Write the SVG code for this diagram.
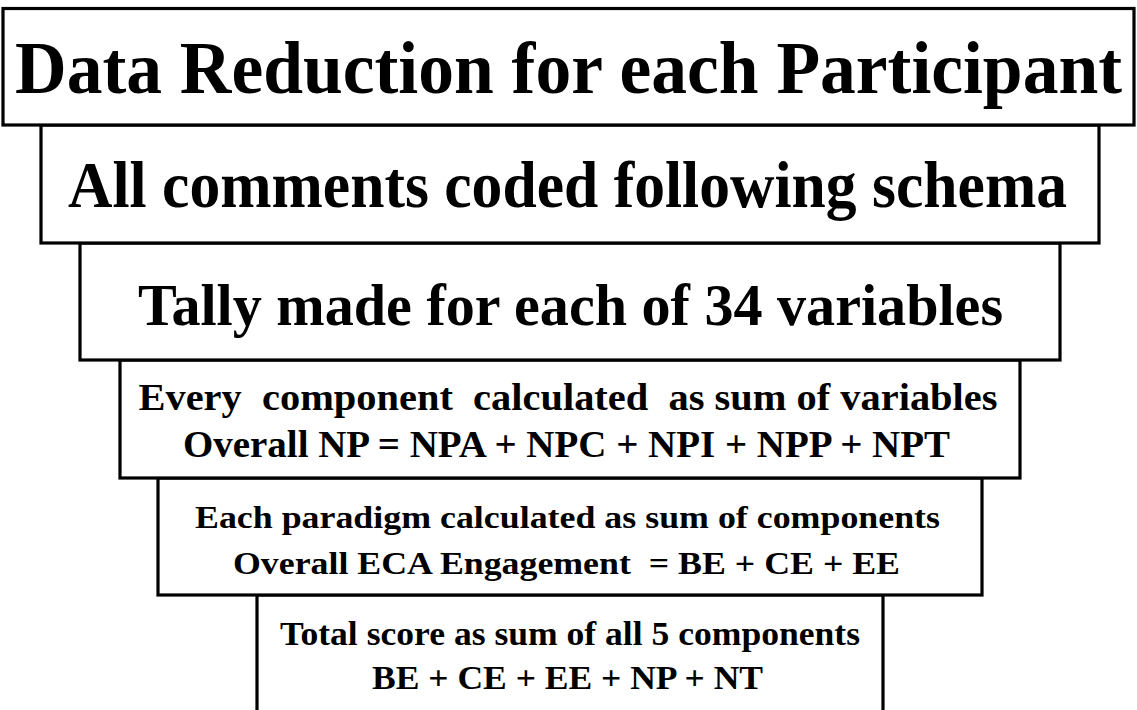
<svg xmlns="http://www.w3.org/2000/svg" width="1137" height="710" viewBox="0 0 1137 710">
<style>
.box{fill:#fff;stroke:#000;stroke-width:3.2}
.t{font-family:"Liberation Serif","Times New Roman",serif;font-weight:bold;fill:#000;text-anchor:middle}
</style>
<rect width="1137" height="710" fill="#fff"/>
<g id="connectors"></g>
<g id="n6"><path class="box" d="M257,720 V595 H883 V720"/>
<text class="t" x="570" y="645" font-size="33" textLength="580" lengthAdjust="spacingAndGlyphs">Total score as sum of all 5 components</text>
<text class="t" x="567.5" y="689" font-size="33" textLength="391" lengthAdjust="spacingAndGlyphs">BE + CE + EE + NP + NT</text></g>
<g id="n5"><rect class="box" x="158" y="478" width="824" height="117"/>
<text class="t" x="567.5" y="528" font-size="32" textLength="745" lengthAdjust="spacingAndGlyphs">Each paradigm calculated as sum of components</text>
<text class="t" x="566.5" y="574" font-size="32" textLength="667" lengthAdjust="spacingAndGlyphs" xml:space="preserve">Overall ECA Engagement  = BE + CE + EE</text></g>
<g id="n4"><rect class="box" x="120" y="360" width="900" height="118"/>
<text class="t" x="568" y="410" font-size="38" textLength="859" lengthAdjust="spacingAndGlyphs" xml:space="preserve">Every  component  calculated  as sum of variables</text>
<text class="t" x="566.5" y="457" font-size="38" textLength="767" lengthAdjust="spacingAndGlyphs">Overall NP = NPA + NPC + NPI + NPP + NPT</text></g>
<g id="n3"><rect class="box" x="80" y="243" width="980" height="117"/>
<text class="t" x="570.5" y="325" font-size="60" textLength="865" lengthAdjust="spacingAndGlyphs">Tally made for each of 34 variables</text></g>
<g id="n2"><rect class="box" x="41" y="125" width="1058" height="118"/>
<text class="t" x="567.5" y="207" font-size="65" textLength="999" lengthAdjust="spacingAndGlyphs">All comments coded following schema</text></g>
<g id="n1"><rect class="box" x="3" y="8.5" width="1131" height="116.5"/>
<text class="t" x="568.5" y="93" font-size="73" textLength="1107" lengthAdjust="spacingAndGlyphs">Data Reduction for each Participant</text></g>
</svg>
